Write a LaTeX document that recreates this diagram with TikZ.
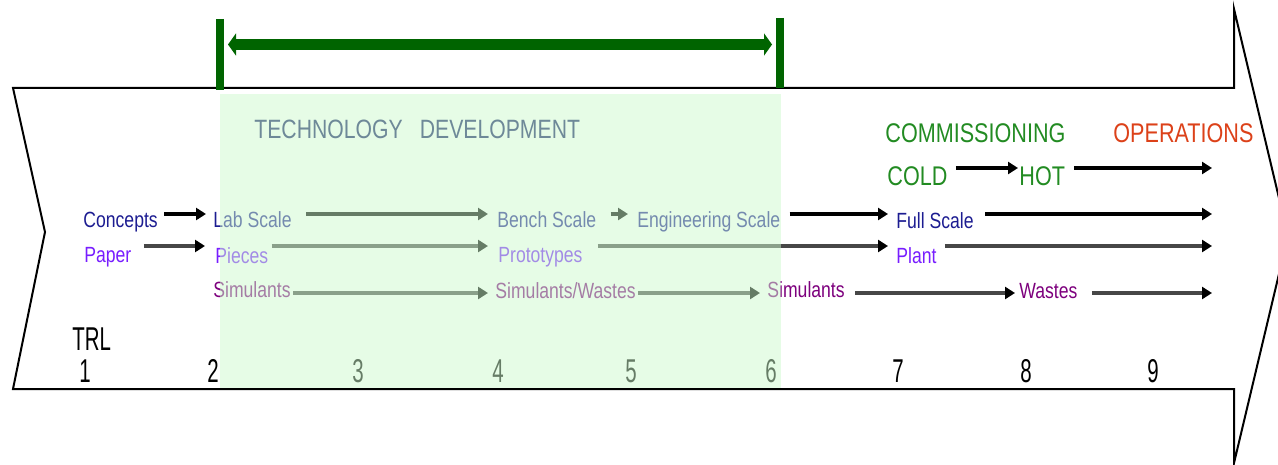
\documentclass[tikz,border=0pt]{standalone}
\usepackage{fontspec}
\setmainfont{Liberation Sans}
\newfontfamily\labfont[FakeStretch=0.8]{Liberation Sans}
\newfontfamily\trlfont[FakeStretch=0.62]{Liberation Sans}
\usepackage{tikz}
\usetikzlibrary{positioning, arrows.meta, calc}

\def\px{0.5pt}

\definecolor{scaleblue}{RGB}{28,28,145}
\definecolor{partviolet}{RGB}{120,30,255}
\definecolor{simpurple}{RGB}{125,0,125}
\definecolor{techblue}{RGB}{15,25,100}
\definecolor{commgreen}{RGB}{34,139,34}
\definecolor{operred}{RGB}{220,65,25}
\definecolor{devgreen}{RGB}{0,100,0}
\definecolor{devshade}{RGB}{205,249,205}

\begin{document}
\begin{tikzpicture}[x=\px, y=-\px,
    lbl/.style={inner sep=0, anchor=base west, font=\labfont\fontsize{11}{13}\selectfont},
    caps/.style={inner sep=0, anchor=base west, font=\labfont\fontsize{13.5}{16}\selectfont},
    trl/.style={inner sep=0, anchor=base, font=\trlfont\fontsize{16.5}{18}\selectfont},
    arr/.style={line width=1.6pt, -{Triangle[length=5pt,width=6pt,color=black]}},
    brk/.style={devgreen, line width=4pt}]

    \useasboundingbox (0,0) rectangle (1278,465);
    \clip (0,0) rectangle (1278,465);

    % big arrow
    \draw[black, line width=1pt]
        (13,88) -- (1234,88) -- (1234,9) -- (1288,236) -- (1234,463)
        -- (1234,389) -- (13,389) -- (45,232) -- cycle;

    % rows
    \coordinate (rH) at (0,168);
    \coordinate (rA) at (0,214);
    \coordinate (rB) at (0,246);
    \coordinate (rC) at (0,293);

    \coordinate (endH) at (1212,168);
    \coordinate (endA) at (1212,214);
    \coordinate (endB) at (1212,246);
    \coordinate (endC) at (1212,293);

    % labels
    \foreach \name/\x/\y/\co/\txt in {
        concepts/83/227/scaleblue/Concepts,
        lab/213/227/scaleblue/Lab Scale,
        bench/497/227/scaleblue/Bench Scale,
        eng/637/227/scaleblue/Engineering Scale,
        full/896/228/scaleblue/Full Scale,
        paper/84/262/partviolet/Paper,
        pieces/215/263/partviolet/Pieces,
        proto/498/262/partviolet/Prototypes,
        plant/896/263/partviolet/Plant,
        simA/213/297/simpurple/Simulants,
        simW/495/298/simpurple/{Simulants/Wastes},
        simB/767/297/simpurple/Simulants,
        wastes/1019/298/simpurple/Wastes}
    {
        \node[lbl, text=\co] (\name) at (\x,\y) {\txt};
    }

    \node[caps, text=techblue, font=\labfont\fontsize{13.25}{16}\selectfont]
        (tech) at (254,139) {TECHNOLOGY\hspace{8.5pt}DEVELOPMENT};
    \node[caps, text=commgreen] (comm) at (885,142) {COMMISSIONING};
    \node[caps, text=operred] (oper) at (1113,142) {OPERATIONS};
    \node[caps, text=commgreen] (cold) at (887,185) {COLD};
    \node[caps, text=commgreen] (hot) at (1019,185) {HOT};

    % TRL scale
    \node[trl, anchor=base west] (trl) at (72,350) {TRL};
    \foreach \i/\x in {1/85, 2/213, 3/358, 4/498, 5/631, 6/771, 7/898, 8/1026, 9/1153}
    {
        \node[trl] (n\i) at (\x,382) {\i};
    }

    % black arrows
    \foreach \from/\to/\row/\s/\e in {
        concepts/lab/rA/6/7,
        lab/bench/rA/14/9,
        bench/eng/rA/14/9,
        eng/full/rA/9/8,
        cold/hot/rH/8/1}
    {
        \draw[arr, shorten <=\s*\px, shorten >=\e*\px]
            (\from.east |- \row) -- (\to.west |- \row);
    }

    % grey arrows
    \foreach \from/\to/\row/\s/\e in {
        paper/pieces/rB/12/10,
        pieces/proto/rB/3/10,
        proto/plant/rB/15/8,
        simA/simW/rC/2/7,
        simW/simB/rC/2/7,
        simB/wastes/rC/10/4}
    {
        \draw[arr, black!72, shorten <=\s*\px, shorten >=\e*\px]
            (\from.east |- \row) -- (\to.west |- \row);
    }

    % open ends
    \foreach \from/\to/\co/\s in {
        full/endA/black/11,
        hot/endH/black/9,
        plant/endB/black!72/8,
        wastes/endC/black!72/14}
    {
        \draw[arr, \co, shorten <=\s*\px] (\from.east |- \to) -- (\to);
    }

    % technology development band
    \fill[devshade, fill opacity=0.5] (220,94) rectangle (781,388);

    % bracket
    \coordinate (devL) at (220,44.5);
    \coordinate (devR) at (780,44.5);
    \draw[brk] (220,19) -- (220,90);
    \draw[brk] (780,18) -- (780,88);
    \draw[devgreen, line width=5.5pt, shorten <=4pt, shorten >=4pt,
        {Triangle[length=4pt,width=11pt]}-{Triangle[length=4pt,width=11pt]}]
        (devL) -- (devR);

\end{tikzpicture}
\end{document}
